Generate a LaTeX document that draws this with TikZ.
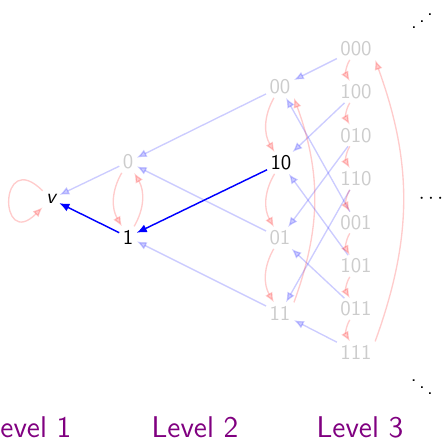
\documentclass[tikz,border=0pt]{standalone}
\usetikzlibrary{arrows.meta}
\definecolor{lvlpurple}{RGB}{128,0,128}
\begin{document}
\begin{tikzpicture}[x=0.48pt,y=-0.48pt, font=\sffamily,
  every node/.style={inner sep=1.5pt},
  lt/.style={text=black!20},
  tip/.style={-{Latex[length=4.8pt,width=4pt]}},
  bl/.style={tip, draw=blue, opacity=0.2, line width=0.65pt},
  bd/.style={tip, draw=blue, line width=0.7pt},
  rd/.style={tip, draw=red, opacity=0.2, line width=0.65pt},
  lvl/.style={text=lvlpurple, font=\sffamily\Large}]
\useasboundingbox (0,0) rectangle (442,441);
% level 0/1
\node (v) at (51,199) {\itshape v};
\node[lt] (n0) at (128,162) {0};
\node (n1) at (128,237) {1};
% level 2
\node[lt] (n00) at (280,87) {00};
\node (n10) at (281,163) {10};
\node[lt] (n01) at (280,238) {01};
\node[lt] (n11) at (280,313) {11};
% level 3
\node[lt] (a000) at (356,49) {000};
\node[lt] (a100) at (356,92) {100};
\node[lt] (a010) at (356,135.5) {010};
\node[lt] (a110) at (356,179) {110};
\node[lt] (a001) at (356,222.5) {001};
\node[lt] (a101) at (356,266) {101};
\node[lt] (a011) at (356,309) {011};
\node[lt] (a111) at (356,352) {111};
% dots
\node (d1) at (422,15) {\reflectbox{$\ddots$}};
\node (d2) at (431,199) {$\cdots$};
\node (d3) at (422,381) {$\ddots$};
% level labels
\node[lvl] (L1) at (28,427) {Level 1};
\node[lvl] (L2) at (195,427) {Level 2};
\node[lvl] (L3) at (360,427) {Level 3};
% blue edges
\draw[bl] (n0) -- (v);
\draw[bl] (n00) -- (n0);
\draw[bl] (n01) -- (n0);
\draw[bl] (n11) -- (n1);
\draw[bl] (a000) -- (n00);
\draw[bl] (a100) -- (n10);
\draw[bl] (a010) -- (n01);
\draw[bl] (a110) -- (n11);
\draw[bl] (a001) -- (n00);
\draw[bl] (a101) -- (n10);
\draw[bl] (a011) -- (n01);
\draw[bl] (a111) -- (n11);
\draw[bd] (n1) -- (v);
\draw[bd] (n10) -- (n1);
% red edges
\draw[rd] (v.north west) .. controls +(135:30pt) and +(225:30pt) .. (v.south west);
\draw[rd] (n0) to[bend right=30] (n1);
\draw[rd] (n1) to[bend right=30] (n0);
\draw[rd] (n00) to[bend right=30] (n10);
\draw[rd] (n10) to[bend right=30] (n01);
\draw[rd] (n01) to[bend right=30] (n11);
\draw[rd] (n11.north east) to[bend right=20] (n00.south east);
\draw[rd] (a000) to[bend right=30] (a100);
\draw[rd] (a100) to[bend right=30] (a010);
\draw[rd] (a010) to[bend right=30] (a110);
\draw[rd] (a110) to[bend right=30] (a001);
\draw[rd] (a001) to[bend right=30] (a101);
\draw[rd] (a101) to[bend right=30] (a011);
\draw[rd] (a011) to[bend right=30] (a111);
\draw[rd] (a111.north east) to[bend right=20] (a000.south east);
\end{tikzpicture}
\end{document}
